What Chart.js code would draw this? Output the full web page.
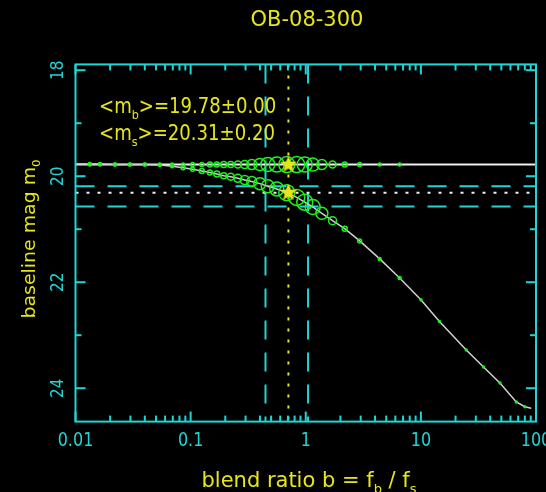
<!DOCTYPE html>
<html>
<head>
<meta charset="utf-8">
<title>OB-08-300</title>
<script src="https://cdn.jsdelivr.net/npm/chart.js@4.4.1/dist/chart.umd.min.js"></script>
<style>
  html, body { margin: 0; padding: 0; background: #000; }
  canvas { display: block; }
</style>
</head>
<body>
<canvas id="chart" width="546" height="492"></canvas>
<script>
// blend ratio grid of the fitted points (both rows)
const fitB = [0.0133, 0.0163, 0.022, 0.0297, 0.040, 0.054, 0.069, 0.086, 0.104, 0.125,
  0.147, 0.169, 0.194, 0.223, 0.257, 0.295, 0.340, 0.399, 0.468, 0.560,
  0.684, 0.835, 0.98, 1.15, 1.38, 1.71, 2.18, 2.94, 4.39, 6.54];
// upper row: baseline mag (flat)
const baseMag = [19.78, 19.78, 19.78, 19.78, 19.78, 19.78, 19.78, 19.78, 19.78, 19.78,
  19.78, 19.78, 19.78, 19.78, 19.78, 19.78, 19.78, 19.78, 19.78, 19.78,
  19.78, 19.78, 19.78, 19.78, 19.78, 19.78, 19.78, 19.78, 19.78, 19.78];
const baseSize = [1.5, 1.5, 1.5, 1.5, 1.5, 1.5, 1.5, 1.5, 2, 2,
  2.5, 2.5, 3, 3, 3.5, 4, 5, 6, 7, 7.5,
  8, 8, 7.5, 6.5, 5, 3.5, 2.5, 2, 1.5, 1.5];
// lower curve: source mag vs blend ratio (markers + tail)
const srcB = [0.01, 0.0133, 0.0163, 0.022, 0.0297, 0.040, 0.054, 0.069, 0.086, 0.104, 0.125,
  0.147, 0.169, 0.194, 0.223, 0.257, 0.295, 0.340, 0.399, 0.468, 0.560,
  0.684, 0.835, 0.98, 1.15, 1.38, 1.71, 2.18, 2.94, 4.39, 6.54,
  10, 14.5, 24.8, 35, 48.6, 67.4, 80, 90.9];
const srcMag = [19.77, 19.77, 19.77, 19.78, 19.78, 19.78, 19.79, 19.81, 19.84, 19.87, 19.90,
  19.93, 19.96, 19.99, 20.01, 20.04, 20.07, 20.10, 20.14, 20.19, 20.24,
  20.31, 20.40, 20.49, 20.58, 20.70, 20.84, 20.99, 21.22, 21.56, 21.92,
  22.33, 22.74, 23.28, 23.60, 23.90, 24.26, 24.35, 24.38];
const srcSize = [0, 1.5, 1.5, 1.5, 1.5, 1.5, 1.5, 1.5, 2, 2, 2.5,
  2.5, 3, 3, 3.5, 4, 4.5, 5, 6, 6.5, 7,
  8, 8, 8, 7.5, 6, 4, 2.5, 2, 1.5, 1.5,
  1, 1, 1, 1, 1, 1, 1, 0];

// best values and limits
const meanMb = 19.78;
const meanMs = 20.31;
const msBand = [20.19, 20.57];
const bBest = 0.707;
const bBand = [0.447, 1.047];
const starB = [0.707, 0.707];
const starMag = [19.78, 20.31];

// axes
const xMin = 0.01, xMax = 100;
const yMin = 17.89, yMax = 24.63;
const xMajor = [0.01, 0.1, 1, 10, 100];
const xTickLabels = ['0.01', '0.1', '1', '10', '100'];
const yMajor = [18, 20, 22, 24];
const yMinor = [19, 21, 23];
const yTickLabels = ['18', '20', '22', '24'];

const CYAN = '#1ed6d6';
const YELLOW = '#e6e61a';
const GREEN = '#1ef01e';
const WHITE = '#f0f0f0';

const FONT = '"DejaVu Sans", sans-serif';

function pts(xs, ys) {
  return xs.map((v, i) => ({ x: v, y: ys[i] }));
}
function hline(v) {
  return [{ x: xMin, y: v }, { x: xMax, y: v }];
}
function vline(v) {
  return [{ x: v, y: yMin }, { x: v, y: yMax }];
}

function starImage(r, color) {
  const c = document.createElement('canvas');
  c.width = c.height = 2 * r + 2;
  const g = c.getContext('2d');
  g.fillStyle = color;
  g.beginPath();
  for (let i = 0; i < 10; i++) {
    const a = -Math.PI / 2 + i * Math.PI / 5;
    const rr = i % 2 ? r * 0.45 : r;
    g.lineTo(r + 1 + rr * Math.cos(a), r + 1 + rr * Math.sin(a));
  }
  g.closePath();
  g.fill();
  return c;
}

// text with subscripts; parts = [[text, isSub], ...]
function richText(ctx, parts, x, y, size, sx, align, angle) {
  const sub = size * 0.62;
  let w = 0;
  parts.forEach(([t, s]) => {
    ctx.font = `${s ? sub : size}px ${FONT}`;
    w += ctx.measureText(t).width;
  });
  ctx.save();
  ctx.translate(x, y);
  if (angle) ctx.rotate(angle);
  ctx.scale(sx, 1);
  let cx = align === 'center' ? -w / 2 : 0;
  ctx.textAlign = 'left';
  ctx.textBaseline = 'alphabetic';
  parts.forEach(([t, s]) => {
    ctx.font = `${s ? sub : size}px ${FONT}`;
    ctx.fillText(t, cx, s ? size * 0.3 : 0);
    cx += ctx.measureText(t).width;
  });
  ctx.restore();
}

const frame = {
  id: 'frame',
  afterDraw(chart) {
    const { ctx, chartArea: a, scales: { x, y } } = chart;
    ctx.save();
    ctx.strokeStyle = CYAN;
    ctx.lineWidth = 2;
    ctx.strokeRect(a.left, a.top, a.right - a.left, a.bottom - a.top);
    const seg = (x1, y1, x2, y2) => {
      ctx.beginPath(); ctx.moveTo(x1, y1); ctx.lineTo(x2, y2); ctx.stroke();
    };
    // x ticks: decades long, 2..9 short
    xMajor.forEach((v, i) => {
      const px = x.getPixelForValue(v);
      seg(px, a.bottom, px, a.bottom - 10);
      seg(px, a.top, px, a.top + 10);
      if (i < xMajor.length - 1) {
        for (let k = 2; k < 10; k++) {
          const mx = x.getPixelForValue(v * k);
          seg(mx, a.bottom, mx, a.bottom - 6);
          seg(mx, a.top, mx, a.top + 6);
        }
      }
    });
    yMajor.forEach(v => {
      const py = y.getPixelForValue(v);
      seg(a.left, py, a.left + 10, py);
      seg(a.right, py, a.right - 10, py);
    });
    yMinor.forEach(v => {
      const py = y.getPixelForValue(v);
      seg(a.left, py, a.left + 6, py);
      seg(a.right, py, a.right - 6, py);
    });

    // tick labels
    ctx.fillStyle = CYAN;
    xMajor.forEach((v, i) => {
      richText(ctx, [[xTickLabels[i], false]], x.getPixelForValue(v), 446, 20, 0.8, 'center');
    });
    yMajor.forEach((v, i) => {
      richText(ctx, [[yTickLabels[i], false]], 63, y.getPixelForValue(v), 18, 0.85, 'center', -Math.PI / 2);
    });

    // titles and notes
    ctx.fillStyle = YELLOW;
    richText(ctx, [['OB-08-300', false]], 307, 26, 21, 1, 'center');
    richText(ctx, [['blend ratio b = f', false], ['b', true], [' / f', false], ['s', true]],
      309, 487, 21, 1, 'center');
    richText(ctx, [['baseline mag m', false], ['0', true]], 35, 239, 18, 1.05, 'center', -Math.PI / 2);
    richText(ctx, [['<m', false], ['b', true], ['>=19.78\u00b10.00', false]], 99, 113, 21, 0.86, 'left');
    richText(ctx, [['<m', false], ['s', true], ['>=20.31\u00b10.20', false]], 99, 140, 21, 0.86, 'left');
    ctx.restore();
  }
};

const lineDs = (data, color, width, dash, order) => ({
  data, borderColor: color, borderWidth: width, borderDash: dash,
  pointRadius: 0, showLine: true, fill: false, order
});

new Chart(document.getElementById('chart'), {
  type: 'scatter',
  data: {
    datasets: [
      {
        data: pts(starB, starMag), pointStyle: starImage(9, YELLOW),
        pointRadius: 9, showLine: false, order: 0
      },
      {
        data: pts(fitB, baseMag), showLine: false, pointStyle: 'circle',
        pointRadius: baseSize, pointBorderColor: GREEN, pointBackgroundColor: 'rgba(0,0,0,0)',
        pointBorderWidth: 1.5, order: 1
      },
      {
        data: pts(srcB, srcMag), showLine: true, borderColor: '#d0d0d0', borderWidth: 1.5,
        pointStyle: 'circle', pointRadius: srcSize, pointBorderColor: GREEN,
        pointBackgroundColor: 'rgba(0,0,0,0)', pointBorderWidth: 1.5, order: 2
      },
      lineDs(hline(meanMb), WHITE, 2, [], 3),
      lineDs(hline(meanMs), WHITE, 2, [3, 8], 4),
      lineDs(hline(msBand[0]), CYAN, 2, [19, 13], 5),
      lineDs(hline(msBand[1]), CYAN, 2, [19, 13], 5),
      lineDs(vline(bBand[0]), CYAN, 2, [19, 13], 5),
      lineDs(vline(bBand[1]), CYAN, 2, [19, 13], 5),
      lineDs(vline(bBest), YELLOW, 2, [3, 8], 6)
    ]
  },
  options: {
    responsive: false,
    animation: false,
    events: [],
    layout: { padding: { left: 75.5, right: 9.4, top: 64.4, bottom: 70.4 } },
    plugins: { legend: { display: false }, tooltip: { enabled: false } },
    scales: {
      x: { type: 'logarithmic', min: xMin, max: xMax, display: false },
      y: { type: 'linear', min: yMin, max: yMax, reverse: true, display: false }
    }
  },
  plugins: [frame]
});
</script>
</body>
</html>
